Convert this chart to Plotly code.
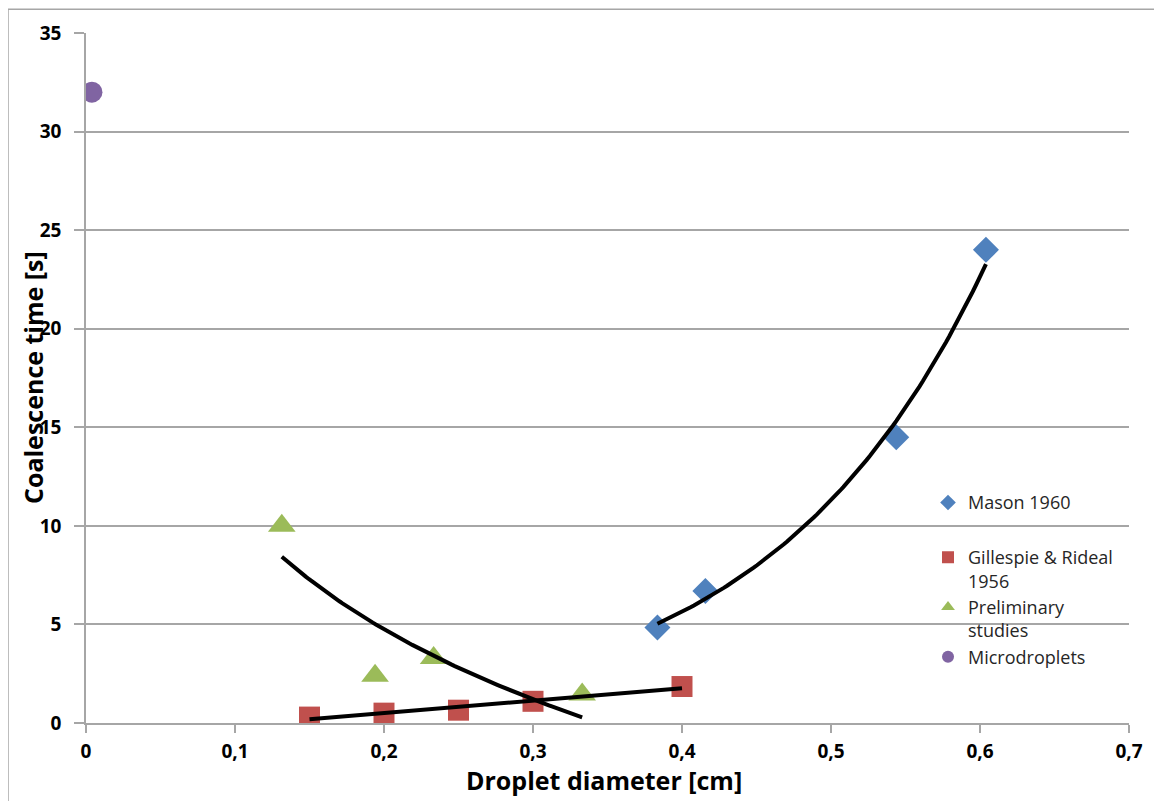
import numpy as np
import plotly.graph_objects as go

mason_x = [0.3835, 0.4157, 0.5438, 0.604]
mason_y = [4.84, 6.7, 14.5, 24.0]
gill_x = [0.15, 0.2, 0.25, 0.3, 0.4]
gill_y = [0.3, 0.5, 0.65, 1.1, 1.85]
prel_x = [0.1314, 0.194, 0.2333, 0.333]
prel_y = [10.0, 2.4, 3.3, 1.45]
micro_x = [0.004]
micro_y = [32.0]

x_ticks = [0, 0.1, 0.2, 0.3, 0.4, 0.5, 0.6, 0.7]
x_tick_labels = ["0", "0,1", "0,2", "0,3", "0,4", "0,5", "0,6", "0,7"]
y_ticks = [0, 5, 10, 15, 20, 25, 30, 35]

BLUE = "#4F81BD"
RED = "#C0504D"
GREEN = "#9BBB59"
PURPLE = "#8064A2"
GRID = "#A6A6A6"
FONT = "Open Sans"

fig = go.Figure()

fig.add_trace(go.Scatter(x=mason_x, y=mason_y, mode="markers", name="Mason 1960",
                         marker=dict(symbol="diamond", size=20, color=BLUE), legend="legend"))
fig.add_trace(go.Scatter(x=gill_x, y=gill_y, mode="markers", name="Gillespie & Rideal<br>1956",
                         marker=dict(symbol="square", size=21, color=RED), legend="legend2"))
fig.add_trace(go.Scatter(x=prel_x, y=prel_y, mode="markers", name="Preliminary<br>studies",
                         marker=dict(symbol="triangle-up", size=24, color=GREEN), legend="legend2"))
fig.add_trace(go.Scatter(x=micro_x, y=micro_y, mode="markers", name="Microdroplets",
                         marker=dict(symbol="circle", size=21, color=PURPLE), legend="legend2"))

# Trendlines (fitted from the data), drawn over the markers
mx = np.array(mason_x); my = np.array(mason_y)
b, lna = np.polyfit(mx, np.log(my), 1)
tx = np.linspace(mx.min(), mx.max(), 100)
fig.add_trace(go.Scatter(x=tx, y=np.exp(lna + b * tx), mode="lines",
                         line=dict(color="black", width=4), showlegend=False, hoverinfo="skip"))

gx = np.array(gill_x); gy = np.array(gill_y)
k, c = np.polyfit(gx, gy, 1)
tx = np.linspace(gx.min(), gx.max(), 10)
fig.add_trace(go.Scatter(x=tx, y=k * tx + c, mode="lines",
                         line=dict(color="black", width=4), showlegend=False, hoverinfo="skip"))

px = np.array(prel_x); py = np.array(prel_y)
k2, c2 = np.polyfit(np.log(px), py, 1)
tx = np.linspace(px.min(), px.max(), 100)
fig.add_trace(go.Scatter(x=tx, y=k2 * np.log(tx) + c2, mode="lines",
                         line=dict(color="black", width=4), showlegend=False, hoverinfo="skip"))

legend_common = dict(xanchor="left", yanchor="top", bgcolor="rgba(0,0,0,0)",
                     font=dict(size=18, family=FONT, color="#262626"),
                     itemsizing="constant", valign="top")

fig.update_layout(
    width=1162, height=801,
    paper_bgcolor="white", plot_bgcolor="white",
    margin=dict(l=78, r=41, t=21, b=86),
    font=dict(family=FONT, color="black"),
    legend=dict(x=0.8073, y=0.346, **legend_common),
    legend2=dict(x=0.8073, y=0.2666, **legend_common),
    xaxis=dict(range=[0, 0.7], tickvals=x_ticks, ticktext=x_tick_labels,
               showgrid=False, zeroline=False, showline=True, linecolor=GRID, linewidth=1.5,
               ticks="outside", ticklen=8, tickcolor=GRID, tickwidth=1.5, ticklabelstandoff=2,
               tickfont=dict(size=19, family=FONT, weight="bold")),
    yaxis=dict(range=[0, 35], tickvals=y_ticks,
               showgrid=True, gridcolor=GRID, gridwidth=1.5, zeroline=False,
               showline=True, linecolor=GRID, linewidth=1.5,
               ticks="outside", ticklen=10, tickcolor=GRID, tickwidth=1.5, ticklabelstandoff=9,
               tickfont=dict(size=19, family=FONT, weight="bold")),
    annotations=[
        dict(text="<b>Droplet diameter [cm]</b>", xref="paper", yref="paper",
             x=0.497, y=-0.083, xanchor="center", yanchor="middle", showarrow=False,
             font=dict(size=25, family=FONT, color="black")),
        dict(text="<b>Coalescence time [s]</b>", xref="paper", yref="paper",
             x=-0.0508, y=0.5, xanchor="center", yanchor="middle", showarrow=False,
             textangle=-90, font=dict(size=25, family=FONT, color="black")),
    ],
    shapes=[dict(type="rect", xref="paper", yref="paper", x0=-0.0748, x1=1.2, y0=-0.3, y1=1.0346,
                 line=dict(color=GRID, width=1.5), fillcolor="rgba(0,0,0,0)", layer="below")],
)

fig.write_html("out.html")
